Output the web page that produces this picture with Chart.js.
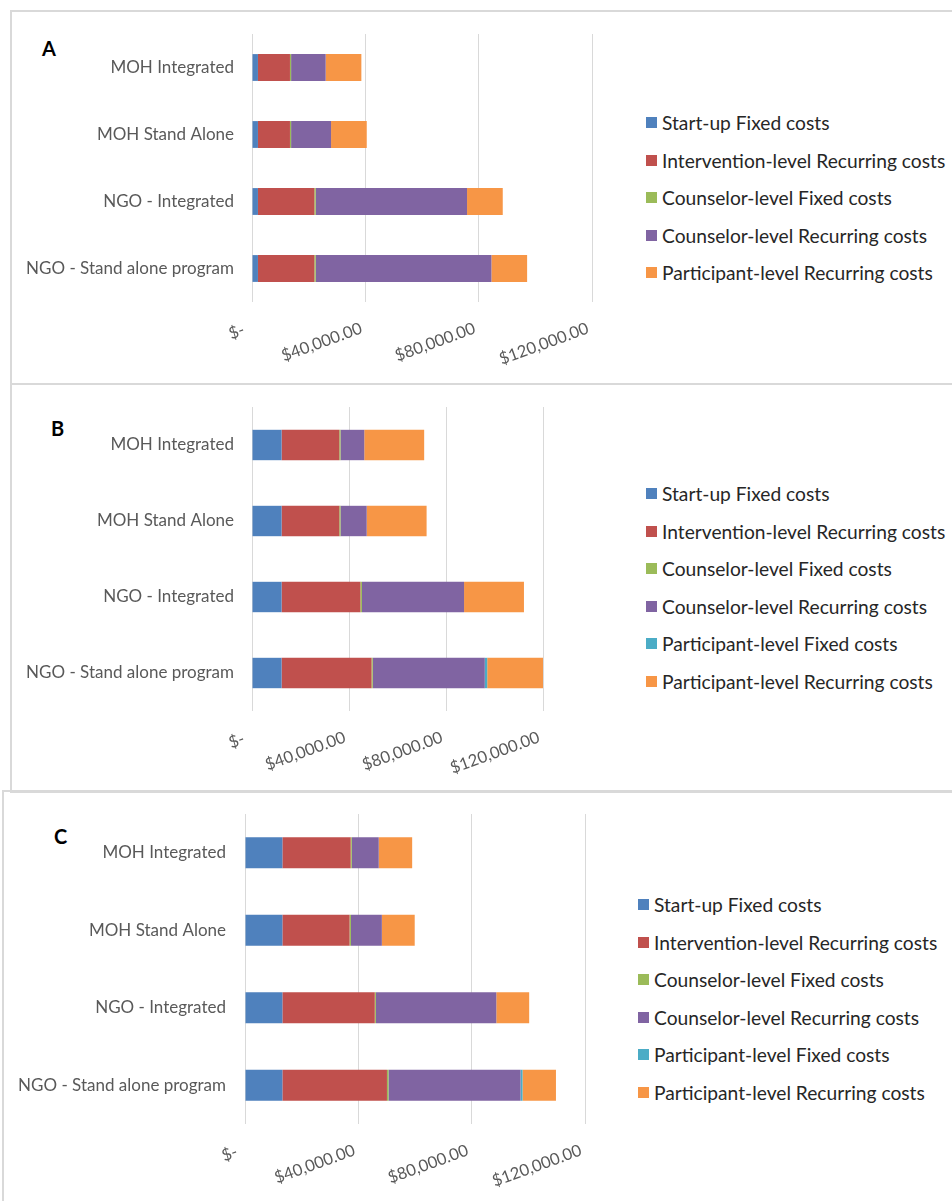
<!DOCTYPE html>
<html>
<head>
<meta charset="utf-8">
<script src="https://cdn.jsdelivr.net/npm/chart.js@4.4.1/dist/chart.umd.min.js"></script>
<style>
body { margin:0; background:#fff; width:952px; height:1201px; overflow:hidden; position:relative; font-family: Lato, sans-serif; }
.panel { position:absolute; border:2px solid #d9d9d9; box-sizing:border-box; }
canvas { position:absolute; }
.letter { position:absolute; font-weight:bold; font-size:20px; color:#000; line-height:20px; }
.legend { position:absolute; font-size:19.2px; color:#262626; }
.legend div { height:37.5px; display:flex; align-items:center; white-space:nowrap; }
.legend span { display:inline-block; width:11px; height:11px; margin-right:5px; flex:none; }
</style>
</head>
<body>
<div class="panel" style="left:10px;top:10px;width:980px;height:375px"></div>
<div class="panel" style="left:10px;top:383px;width:980px;height:410px"></div>
<div class="panel" style="left:2px;top:790px;width:990px;height:440px"></div>

<div class="letter" style="left:42px;top:38px">A</div>
<div class="letter" style="left:51px;top:418px">B</div>
<div class="letter" style="left:54px;top:826px">C</div>

<canvas id="chartA" width="610" height="370" style="left:12px;top:12px"></canvas>
<canvas id="chartB" width="610" height="405" style="left:12px;top:385px"></canvas>
<canvas id="chartC" width="610" height="409" style="left:4px;top:792px"></canvas>

<div class="legend" id="legendA" style="left:646px;top:104px"></div>
<div class="legend" id="legendB" style="left:646px;top:475px"></div>
<div class="legend" id="legendC" style="left:638px;top:886px"></div>

<script>
const categorias = ['MOH Integrated', 'MOH Stand Alone', 'NGO - Integrated', 'NGO - Stand alone program']
const xTicks = [0, 40000, 80000, 120000]

const nomes = ['Start-up Fixed costs', 'Intervention-level Recurring costs', 'Counselor-level Fixed costs',
  'Counselor-level Recurring costs', 'Participant-level Fixed costs', 'Participant-level Recurring costs']
const cores = ['#4F81BD', '#C0504D', '#9BBB59', '#8064A2', '#4BACC6', '#F79646']

// painel A (sem Participant-level Fixed)
const startupA = [2100, 2100, 2100, 2100]
const intervencaoA = [11300, 11300, 19900, 19900]
const conselheiroFixoA = [400, 400, 500, 500]
const conselheiroRecA = [12200, 14100, 53400, 62000]
const participanteRecA = [12600, 12600, 12600, 12600]

// painel B
const startupB = [12200, 12200, 12200, 12200]
const intervencaoB = [23800, 23800, 32500, 37100]
const conselheiroFixoB = [500, 500, 650, 500]
const conselheiroRecB = [9800, 10800, 42100, 46200]
const participanteFixoB = [0, 0, 0, 1000]
const participanteRecB = [24700, 24700, 24700, 24700]

// painel C
const startupC = [13200, 13200, 13200, 13200]
const intervencaoC = [24100, 23700, 32600, 36900]
const conselheiroFixoC = [400, 500, 400, 550]
const conselheiroRecC = [9500, 10900, 42500, 46600]
const participanteFixoC = [0, 0, 0, 700]
const participanteRecC = [11800, 11600, 11600, 11800]

const formatar = v => {
  if (v === 0) return '$-  '
  return '$' + v.toLocaleString('en-US', {minimumFractionDigits: 2}) + ' '
}

const gerarGrafico = (id, series, indices, cfg) => {
  const ctx = document.getElementById(id)
  const datasets = series.map((dados, i) => ({
    label: nomes[indices[i]],
    data: dados,
    backgroundColor: cores[indices[i]],
    borderWidth: 0,
    barPercentage: 0.5,
    categoryPercentage: 0.8
  }))
  return new Chart(ctx, {
    type: 'bar',
    data: { labels: categorias, datasets: datasets },
    options: {
      indexAxis: 'y',
      responsive: false,
      animation: false,
      layout: { padding: { top: 22, right: cfg.right, bottom: 0, left: 0 } },
      plugins: { legend: { display: false }, tooltip: { enabled: false } },
      scales: {
        x: {
          stacked: true,
          min: 0,
          max: 120000,
          afterBuildTicks: scale => { scale.ticks = xTicks.map(v => ({ value: v })) },
          afterFit: scale => { scale.height = cfg.xh },
          grid: { color: '#d9d9d9', lineWidth: 1, drawTicks: false },
          border: { display: false },
          ticks: {
            callback: v => formatar(v),
            minRotation: 20,
            maxRotation: 20,
            padding: 15,
            color: '#595959',
            font: { family: 'Lato', size: 16.5 }
          }
        },
        y: {
          stacked: true,
          afterFit: scale => {
            scale.width = cfg.yw
            // a area do grafico fica so com o padding do layout
            scale.paddingTop = 0
            scale.paddingBottom = 0
          },
          grid: { display: false, drawTicks: false },
          border: { display: false },
          ticks: {
            padding: cfg.pad,
            color: '#595959',
            font: { family: 'Lato', size: 17 }
          }
        }
      }
    }
  })
}

const carregarLegenda = (id, indices) => {
  const leg = document.getElementById(id)
  indices.forEach(i => {
    const div = document.createElement('div')
    const sq = document.createElement('span')
    sq.style.background = cores[i]
    div.appendChild(sq)
    div.appendChild(document.createTextNode(nomes[i]))
    leg.appendChild(div)
  })
}

gerarGrafico('chartA', [startupA, intervencaoA, conselheiroFixoA, conselheiroRecA, participanteRecA],
  [0, 1, 2, 3, 5], { right: 30, xh: 80, yw: 240, pad: 18 })
gerarGrafico('chartB', [startupB, intervencaoB, conselheiroFixoB, conselheiroRecB, participanteFixoB, participanteRecB],
  [0, 1, 2, 3, 4, 5], { right: 79, xh: 79, yw: 240, pad: 18 })
gerarGrafico('chartC', [startupC, intervencaoC, conselheiroFixoC, conselheiroRecC, participanteFixoC, participanteRecC],
  [0, 1, 2, 3, 4, 5], { right: 29, xh: 77, yw: 241, pad: 19 })

carregarLegenda('legendA', [0, 1, 2, 3, 5])
carregarLegenda('legendB', [0, 1, 2, 3, 4, 5])
carregarLegenda('legendC', [0, 1, 2, 3, 4, 5])
</script>
</body>
</html>
